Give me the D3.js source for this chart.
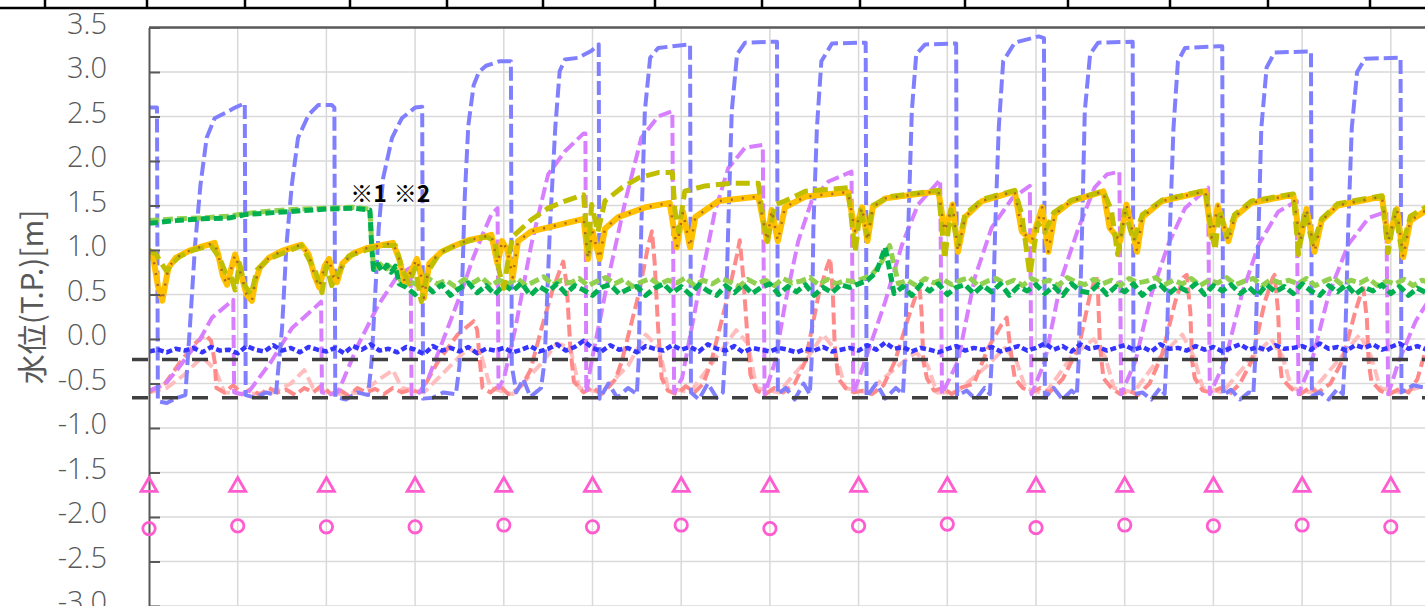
<!DOCTYPE html>
<html lang="ja">
<head>
<meta charset="utf-8">
<title>水位</title>
<script src="https://cdn.jsdelivr.net/npm/d3@7"></script>
<style>
  body { margin: 0; background: #fff; }
  svg { display: block; }
  .tick text { font-family: 'Open Sans', sans-serif; font-weight: 300; }
</style>
</head>
<body>
<div id="chart"></div>
<script>
// time axis is in days from the left edge of the plot, water level in T.P. m
const yTicks = [-3.0, -2.5, -2.0, -1.5, -1.0, -0.5, 0.0, 0.5, 1.0, 1.5, 2.0, 2.5, 3.0, 3.5];
const days = [0, 1, 2, 3, 4, 5, 6, 7, 8, 9, 10, 11, 12, 13, 14];

// outer water level (blue dashed)
const outerLevel = [
  [0,2.60],[0.09,2.60],[0.1,-0.70],[0.2,-0.72],[0.32,-0.66],[0.41,-0.63],[0.46,0.12],[0.52,1.06],[0.58,1.73],[0.65,2.26],[0.74,2.48],[0.86,2.54],[0.97,2.60],[1.08,2.65],
  [1.09,-0.63],[1.2,-0.66],[1.32,-0.6],[1.43,-0.63],[1.5,0.12],[1.55,1.06],[1.61,1.73],[1.68,2.26],[1.8,2.52],[1.91,2.63],[2.06,2.63],[2.09,2.6],
  [2.1,-0.65],[2.22,-0.68],[2.35,-0.6],[2.47,-0.63],[2.51,-0.25],[2.55,0.5],[2.59,1.25],[2.64,1.81],[2.74,2.26],[2.85,2.48],[3.0,2.6],[3.08,2.61],
  [3.09,-0.67],[3.2,-0.66],[3.32,-0.6],[3.46,-0.62],[3.5,-0.3],[3.53,0.6],[3.56,1.6],[3.6,2.4],[3.66,2.85],[3.72,3.0],[3.8,3.07],[3.95,3.12],[4.08,3.12],
  [4.09,-0.3],[4.14,-0.6],[4.22,-0.45],[4.3,-0.65],[4.42,-0.55],[4.46,-0.25],[4.52,1.25],[4.58,2.37],[4.63,3.01],[4.69,3.14],[4.84,3.16],[4.99,3.24],[5.07,3.31],
  [5.08,-0.67],[5.18,-0.5],[5.28,-0.66],[5.4,-0.55],[5.5,-0.62],[5.52,-0.25],[5.55,1.25],[5.59,2.56],[5.65,3.16],[5.74,3.27],[6.08,3.31],[6.1,3.31],
  [6.11,-0.6],[6.2,-0.68],[6.3,-0.5],[6.4,-0.66],[6.47,-0.6],[6.49,-0.25],[6.53,1.25],[6.57,2.56],[6.63,3.2],[6.72,3.33],[7.06,3.34],[7.08,3.34],
  [7.09,-0.62],[7.18,-0.55],[7.28,-0.68],[7.38,-0.5],[7.45,-0.62],[7.47,-0.25],[7.49,1.25],[7.53,2.37],[7.58,3.12],[7.7,3.32],[8.07,3.33],[8.08,3.33],
  [8.09,-0.65],[8.2,-0.5],[8.3,-0.67],[8.42,-0.55],[8.5,-0.62],[8.52,-0.25],[8.56,1.25],[8.6,2.56],[8.65,3.2],[8.75,3.31],[9.09,3.32],[9.1,3.32],
  [9.11,-0.64],[9.22,-0.58],[9.32,-0.68],[9.42,-0.55],[9.48,-0.62],[9.5,-0.25],[9.54,1.25],[9.58,2.37],[9.63,3.12],[9.76,3.33],[10.03,3.4],[10.09,3.38],
  [10.1,-0.66],[10.2,-0.55],[10.3,-0.68],[10.4,-0.58],[10.46,-0.63],[10.48,-0.25],[10.52,1.25],[10.55,2.56],[10.61,3.2],[10.7,3.33],[11.08,3.34],[11.09,3.34],
  [11.1,-0.62],[11.2,-0.6],[11.3,-0.68],[11.4,-0.55],[11.45,-0.62],[11.47,-0.25],[11.51,1.25],[11.55,2.37],[11.6,3.12],[11.68,3.27],[12.06,3.29],[12.1,3.29],
  [12.11,-0.63],[12.2,-0.57],[12.3,-0.68],[12.4,-0.6],[12.45,-0.62],[12.47,-0.25],[12.51,1.25],[12.54,2.37],[12.6,3.05],[12.69,3.22],[13.06,3.23],[13.1,3.23],
  [13.11,-0.64],[13.2,-0.6],[13.3,-0.68],[13.4,-0.56],[13.46,-0.62],[13.48,-0.25],[13.52,1.25],[13.56,2.37],[13.62,3.0],[13.71,3.15],[14.08,3.16],[14.11,3.16],
  [14.12,-0.6],[14.25,-0.52],[14.4,-0.55],[14.5,-0.5]
];

// violet dashed
const upperLevel = [
  [0,-0.58],[0.18,-0.51],[0.33,-0.33],[0.44,-0.18],[0.56,-0.03],[0.71,0.24],[0.95,0.44],[0.96,-0.6],[1.05,-0.62],
  [1.12,-0.6],[1.38,-0.25],[1.61,0.12],[1.91,0.39],[1.94,0.42],[1.95,-0.6],[2.05,-0.62],
  [2.13,-0.6],[2.36,-0.06],[2.59,0.39],[2.81,0.72],[2.95,0.8],[2.96,-0.62],[3.05,-0.6],
  [3.15,-0.44],[3.34,0.05],[3.53,0.55],[3.65,0.9],[3.76,1.17],[3.86,1.4],[3.93,1.47],[3.94,-0.55],
  [4.0,-0.45],[4.13,0.12],[4.31,1.06],[4.5,1.85],[4.69,2.11],[4.9,2.31],[4.92,2.31],[4.93,-0.6],
  [4.99,-0.25],[5.18,0.69],[5.37,1.55],[5.55,2.26],[5.74,2.5],[5.9,2.56],[5.92,-0.6],
  [6.01,-0.44],[6.19,0.5],[6.38,1.43],[6.53,1.92],[6.72,2.15],[6.92,2.18],[6.94,-0.62],
  [7.06,-0.25],[7.17,0.39],[7.32,1.1],[7.47,1.55],[7.66,1.77],[7.92,1.88],[7.94,-0.62],
  [8.07,-0.25],[8.3,0.42],[8.49,1.06],[8.67,1.51],[8.92,1.79],[8.94,-0.62],
  [9.12,-0.25],[9.31,0.69],[9.5,1.25],[9.73,1.58],[9.93,1.72],[9.95,-0.62],
  [10.1,-0.25],[10.29,0.69],[10.48,1.25],[10.66,1.7],[10.8,1.85],[10.94,1.88],[10.96,-0.62],
  [11.12,-0.25],[11.3,0.5],[11.49,1.06],[11.68,1.47],[11.94,1.7],[11.96,-0.62],
  [12.13,-0.25],[12.32,0.5],[12.51,1.06],[12.73,1.43],[12.94,1.55],[12.96,-0.62],
  [13.11,-0.25],[13.3,0.5],[13.52,1.06],[13.75,1.36],[13.95,1.43],[13.97,-0.62],
  [14.09,-0.25],[14.28,0.2],[14.5,0.55]
];

// salmon dashed
const innerLevelA = [
  [0,-0.6],[0.08,-0.55],[0.18,-0.5],[0.36,-0.25],[0.51,-0.06],[0.63,0.05],[0.7,-0.02],[0.74,-0.25],[0.76,-0.55],
  [0.85,-0.6],[0.95,-0.52],[1.05,-0.62],[1.15,-0.56],[1.25,-0.63],[1.35,-0.55],[1.45,-0.6],[1.55,-0.57],[1.65,-0.63],[1.75,-0.55],
  [1.85,-0.6],[1.95,-0.52],[2.05,-0.62],[2.15,-0.57],[2.25,-0.64],[2.35,-0.55],[2.45,-0.6],[2.55,-0.56],[2.65,-0.62],[2.75,-0.55],
  [2.85,-0.6],[2.95,-0.57],[3.05,-0.6],
  [3.12,-0.5],[3.26,-0.25],[3.48,0.05],[3.66,0.2],[3.7,0.1],[3.73,-0.25],[3.76,-0.55],
  [3.85,-0.6],[3.95,-0.52],[4.05,-0.62],[4.15,-0.57],
  [4.22,-0.5],[4.3,-0.35],[4.42,0.1],[4.55,0.55],[4.67,0.87],[4.71,0.6],[4.75,-0.1],[4.79,-0.48],
  [4.9,-0.6],[5.0,-0.54],[5.1,-0.62],[5.2,-0.52],
  [5.26,-0.45],[5.33,-0.25],[5.52,0.5],[5.63,1.06],[5.67,1.21],[5.7,0.87],[5.74,0.12],[5.78,-0.44],
  [5.85,-0.58],[5.95,-0.62],[6.05,-0.53],[6.15,-0.6],[6.25,-0.5],
  [6.34,-0.25],[6.53,0.5],[6.63,0.95],[6.66,1.11],[6.7,0.69],[6.74,0.12],[6.78,-0.4],
  [6.85,-0.58],[6.95,-0.62],[7.05,-0.55],[7.15,-0.6],[7.28,-0.5],
  [7.4,-0.25],[7.55,0.5],[7.64,0.8],[7.68,0.91],[7.71,0.5],[7.73,-0.06],[7.77,-0.44],
  [7.85,-0.55],[7.95,-0.6],[8.05,-0.58],[8.15,-0.62],[8.28,-0.52],
  [8.41,-0.25],[8.56,0.24],[8.65,0.5],[8.69,0.55],[8.71,0.3],[8.73,-0.25],[8.77,-0.44],
  [8.85,-0.58],[8.95,-0.55],[9.05,-0.62],[9.15,-0.55],[9.3,-0.5],
  [9.46,-0.1],[9.61,0.16],[9.67,0.24],[9.71,-0.1],[9.76,-0.44],
  [9.85,-0.55],[9.95,-0.6],[10.05,-0.55],[10.15,-0.6],[10.3,-0.45],
  [10.48,-0.1],[10.61,0.5],[10.68,0.72],[10.7,0.5],[10.72,-0.06],[10.76,-0.44],
  [10.85,-0.55],[10.95,-0.62],[11.05,-0.58],[11.15,-0.63],[11.28,-0.5],
  [11.42,-0.18],[11.57,0.42],[11.66,0.69],[11.7,0.72],[11.74,0.3],[11.76,-0.25],[11.79,-0.44],
  [11.88,-0.58],[11.98,-0.6],[12.08,-0.55],[12.18,-0.62],[12.3,-0.5],
  [12.43,-0.25],[12.58,0.42],[12.67,0.69],[12.69,0.72],[12.73,0.3],[12.75,-0.25],[12.77,-0.44],
  [12.88,-0.56],[12.98,-0.62],[13.08,-0.55],[13.18,-0.6],[13.32,-0.5],
  [13.45,-0.25],[13.6,0.31],[13.67,0.53],[13.69,0.57],[13.73,0.23],[13.75,-0.25],[13.78,-0.47],
  [13.88,-0.58],[13.98,-0.62],[14.1,-0.56],[14.2,-0.6],[14.3,-0.45],[14.4,-0.1],[14.5,0.3]
];

// light pink dashed
const innerLevelB = [
  [0,-0.6],[0.2,-0.55],[0.4,-0.4],[0.6,-0.2],[0.75,-0.35],[0.85,-0.6],[1.1,-0.62],[1.4,-0.6],[1.6,-0.5],[1.75,-0.35],[1.85,-0.55],
  [2.1,-0.62],[2.4,-0.6],[2.6,-0.45],[2.75,-0.35],[2.85,-0.55],[3.1,-0.6],[3.4,-0.3],[3.6,-0.1],[3.75,-0.2],[3.85,-0.55],
  [4.1,-0.62],[4.4,-0.3],[4.6,-0.05],[4.75,-0.1],[4.85,-0.55],[5.1,-0.6],[5.4,-0.3],[5.6,0.05],[5.75,-0.1],[5.85,-0.55],
  [6.1,-0.6],[6.4,-0.2],[6.62,0.1],[6.75,-0.05],[6.85,-0.55],[7.1,-0.6],[7.4,-0.25],[7.6,0.05],[7.72,-0.1],[7.85,-0.55],
  [8.1,-0.6],[8.45,-0.3],[8.65,-0.15],[8.78,-0.3],[8.88,-0.6],[9.1,-0.6],[9.45,-0.3],[9.65,-0.1],[9.78,-0.25],[9.88,-0.55],
  [10.1,-0.62],[10.4,-0.2],[10.65,0.0],[10.78,-0.2],[10.88,-0.55],[11.1,-0.6],[11.4,-0.2],[11.65,0.05],[11.78,-0.2],[11.88,-0.55],
  [12.1,-0.6],[12.4,-0.25],[12.65,0.0],[12.78,-0.2],[12.88,-0.55],[13.1,-0.6],[13.4,-0.25],[13.65,0.05],[13.78,-0.2],[13.88,-0.55],
  [14.1,-0.6],[14.5,-0.5]
];

// dark blue dotted, one reading every 0.1 day
const sampleStep = 0.1;
const pumpLevel = [
  -0.14,-0.12,-0.15,-0.11,-0.13,-0.1,-0.15,-0.09,-0.13,-0.12,
  -0.16,-0.08,-0.12,-0.14,-0.07,-0.13,-0.1,-0.15,-0.09,-0.12,
  -0.14,-0.1,-0.16,-0.08,-0.12,-0.06,-0.13,-0.11,-0.15,-0.09,
  -0.12,-0.17,-0.08,-0.13,-0.1,-0.14,-0.09,-0.16,-0.11,-0.13,
  -0.1,-0.15,-0.12,-0.08,-0.14,-0.11,-0.06,-0.13,-0.09,-0.02,
  -0.1,-0.14,-0.07,-0.12,-0.1,-0.15,-0.08,-0.11,-0.13,-0.07,
  -0.12,-0.09,-0.14,-0.06,-0.11,-0.13,-0.08,-0.15,-0.1,-0.12,
  -0.14,-0.1,-0.12,-0.15,-0.11,-0.13,-0.09,-0.14,-0.12,-0.1,
  -0.13,-0.07,-0.12,-0.04,-0.11,-0.09,-0.14,-0.1,-0.12,-0.15,
  -0.11,-0.08,-0.13,-0.1,-0.12,-0.09,-0.14,-0.11,-0.08,-0.13,
  -0.1,-0.05,-0.12,-0.08,-0.14,-0.06,-0.11,-0.09,-0.13,-0.1,
  -0.07,-0.12,-0.09,-0.14,-0.06,-0.11,-0.1,-0.13,-0.08,-0.12,
  -0.09,-0.14,-0.1,-0.06,-0.12,-0.09,-0.13,-0.07,-0.11,-0.1,
  -0.08,-0.12,-0.05,-0.11,-0.09,-0.13,-0.07,-0.1,-0.06,-0.12,
  -0.09,-0.05,-0.11,-0.08,-0.12,-0.07
];

// green dashed: readings until the change, then every 0.1 day from 2.9
const canalEarly = [
  [0,1.30],[0.3,1.33],[0.6,1.35],[0.9,1.36],[1.1,1.40],[1.4,1.42],[1.7,1.44],[2.0,1.46],[2.3,1.47],[2.49,1.45],
  [2.51,1.05],[2.53,0.78],[2.58,0.84],[2.63,0.76],[2.68,0.83],[2.73,0.75],[2.78,0.82],[2.82,0.62]
];
const canalStart = 2.9;
const canalLevel = [
  0.58,0.5,0.62,0.53,0.61,0.49,0.57,0.63,0.52,0.6,
  0.5,0.61,0.54,0.63,0.49,0.59,0.53,0.62,0.51,0.6,
  0.55,0.49,0.58,0.61,0.51,0.56,0.59,0.49,0.57,0.62,
  0.52,0.59,0.5,0.61,0.54,0.49,0.6,0.52,0.61,0.51,
  0.58,0.62,0.5,0.59,0.53,0.61,0.49,0.58,0.52,0.61,
  0.58,0.62,0.66,0.75,1.03,0.51,0.59,0.49,0.61,0.54,
  0.62,0.5,0.58,0.61,0.51,0.6,0.53,0.62,0.49,0.59,
  0.54,0.61,0.51,0.59,0.49,0.62,0.54,0.52,0.61,0.5,
  0.59,0.53,0.62,0.49,0.58,0.61,0.51,0.59,0.54,0.62,
  0.5,0.6,0.54,0.61,0.51,0.58,0.49,0.61,0.53,0.59,
  0.51,0.62,0.54,0.49,0.6,0.53,0.61,0.5,0.58,0.54,
  0.61,0.51,0.59,0.49,0.57,0.52,0.6
];

// light green dashed
const canalEarlyB = [
  [0,1.33],[0.3,1.35],[0.6,1.36],[0.9,1.38],[1.1,1.41],[1.4,1.44],[1.7,1.46],[2.0,1.47],[2.3,1.48],[2.49,1.46],
  [2.51,1.1],[2.53,0.82],[2.58,0.8],[2.63,0.86],[2.68,0.79],[2.73,0.85],[2.78,0.78],[2.84,0.65]
];
const canalStartB = 2.95;
const canalLevelB = [
  0.64,0.6,0.68,0.62,0.66,0.59,0.67,0.63,0.69,0.6,
  0.66,0.62,0.68,0.6,0.65,0.7,0.61,0.66,0.63,0.68,
  0.6,0.65,0.69,0.62,0.67,0.59,0.64,0.68,0.61,0.66,
  0.63,0.69,0.6,0.66,0.62,0.68,0.64,0.59,0.67,0.62,
  0.66,0.6,0.68,0.63,0.65,0.69,0.61,0.67,0.62,0.66,
  0.64,0.68,0.72,0.85,1.05,0.62,0.66,0.6,0.68,0.63,
  0.67,0.61,0.66,0.69,0.6,0.65,0.68,0.62,0.66,0.6,
  0.68,0.63,0.66,0.6,0.69,0.64,0.61,0.67,0.62,0.66,
  0.6,0.68,0.63,0.65,0.69,0.61,0.66,0.62,0.68,0.6,
  0.66,0.63,0.69,0.61,0.65,0.68,0.6,0.67,0.63,0.66,
  0.62,0.68,0.6,0.65,0.69,0.61,0.66,0.63,0.68,0.6,
  0.65,0.62,0.67,0.6,0.66,0.63
];

// orange solid
const riverLevel = [
  [0,0.97],[0.05,0.9],[0.1,0.6],[0.15,0.43],[0.19,0.65],[0.22,0.8],[0.3,0.91],[0.45,0.99],[0.6,1.04],[0.74,1.08],
  [0.78,0.95],[0.83,0.72],[0.88,0.61],[0.93,0.8],[0.97,0.95],[1.03,0.75],[1.1,0.5],[1.16,0.43],[1.2,0.65],[1.25,0.8],
  [1.35,0.91],[1.5,0.99],[1.62,1.03],[1.72,1.06],[1.8,0.95],[1.87,0.7],[1.92,0.58],[1.98,0.82],[2.03,0.9],[2.08,0.7],
  [2.12,0.64],[2.18,0.85],[2.3,0.96],[2.45,1.02],[2.6,1.05],[2.75,1.08],[2.82,0.9],[2.88,0.65],[2.95,0.75],[3.02,0.9],
  [3.07,0.7],[3.1,0.46],[3.16,0.85],[3.3,0.98],[3.45,1.05],[3.6,1.11],[3.75,1.14],[3.86,1.17],[3.93,0.84],[3.98,1.1],
  [4.04,1.0],[4.1,0.69],[4.16,1.1],[4.31,1.21],[4.61,1.28],[4.9,1.35],[4.95,0.9],[5.0,1.21],[5.08,0.9],[5.14,1.24],
  [5.29,1.37],[5.6,1.48],[5.87,1.53],[5.95,1.03],[6.02,1.43],[6.1,1.03],[6.16,1.37],[6.42,1.55],[6.87,1.6],[6.97,1.1],
  [7.02,1.45],[7.09,1.1],[7.17,1.48],[7.4,1.6],[7.88,1.65],[7.96,1.21],[8.04,1.48],[8.1,1.1],[8.16,1.48],[8.3,1.58],
  [8.9,1.66],[8.97,1.21],[9.06,1.51],[9.12,0.98],[9.2,1.37],[9.39,1.55],[9.76,1.66],[9.84,1.21],[9.95,1.1],[10.07,1.48],
  [10.14,0.98],[10.21,1.4],[10.4,1.55],[10.76,1.66],[10.83,1.25],[10.95,1.1],[11.02,1.51],[11.14,0.98],[11.2,1.37],[11.42,1.55],
  [11.91,1.66],[11.98,1.14],[12.05,1.5],[12.17,1.1],[12.24,1.37],[12.43,1.53],[12.9,1.62],[12.98,1.1],[13.05,1.46],[13.14,0.98],
  [13.22,1.33],[13.4,1.5],[13.9,1.6],[13.97,1.1],[14.07,1.46],[14.14,0.92],[14.22,1.33],[14.39,1.44],[14.5,1.47]
];

// olive dashed
const riverLevelB = [
  [0,1.0],[0.08,0.95],[0.14,0.85],[0.2,0.76],[0.26,0.85],[0.35,0.93],[0.5,1.0],[0.7,1.05],[0.8,0.9],[0.86,0.75],
  [0.92,0.72],[0.97,0.55],[1.02,0.85],[1.08,0.6],[1.15,0.5],[1.22,0.78],[1.35,0.9],[1.55,0.98],[1.72,1.05],[1.8,0.9],
  [1.88,0.75],[1.95,0.52],[2.0,0.82],[2.06,0.6],[2.12,0.72],[2.25,0.93],[2.45,1.0],[2.62,1.05],[2.78,1.05],[2.85,0.8],
  [2.93,0.62],[3.0,0.8],[3.07,0.42],[3.14,0.75],[3.28,0.97],[3.45,1.05],[3.6,1.1],[3.8,1.15],[3.9,1.1],[3.95,0.75],
  [4.0,0.57],[4.05,0.9],[4.1,1.15],[4.31,1.34],[4.5,1.47],[4.69,1.55],[4.9,1.62],[4.95,0.95],[4.99,1.51],[5.06,1.2],
  [5.14,1.55],[5.33,1.7],[5.52,1.81],[5.74,1.87],[5.9,1.87],[5.93,1.44],[5.97,1.2],[6.04,1.66],[6.27,1.72],[6.57,1.75],
  [6.87,1.75],[6.93,1.3],[6.97,1.1],[7.06,1.51],[7.17,1.55],[7.4,1.66],[7.88,1.7],[7.96,0.98],[8.02,1.45],[8.1,1.15],
  [8.16,1.5],[8.35,1.6],[8.9,1.67],[8.97,0.9],[9.04,1.45],[9.12,1.05],[9.2,1.4],[9.4,1.57],[9.76,1.67],[9.84,1.4],
  [9.93,0.72],[10.02,1.3],[10.1,1.2],[10.2,1.42],[10.4,1.56],[10.76,1.66],[10.85,1.45],[10.92,0.95],[11.0,1.45],[11.1,1.1],
  [11.2,1.4],[11.42,1.56],[11.91,1.67],[11.97,1.25],[12.02,1.0],[12.07,1.45],[12.15,1.15],[12.24,1.4],[12.43,1.55],[12.9,1.63],
  [12.96,0.95],[13.03,1.45],[13.12,1.05],[13.22,1.35],[13.4,1.52],[13.9,1.61],[13.97,0.97],[14.05,1.45],[14.12,1.0],[14.22,1.38],
  [14.39,1.48],[14.5,1.48]
];

// reference levels (black dashed)
const refLevels = [-0.23, -0.66];

// daily marks
const triangleLevel = [-1.64,-1.64,-1.64,-1.64,-1.64,-1.64,-1.64,-1.64,-1.64,-1.64,-1.64,-1.64,-1.64,-1.64,-1.64];
const circleLevel = [-2.13,-2.10,-2.11,-2.11,-2.09,-2.11,-2.09,-2.13,-2.10,-2.08,-2.12,-2.09,-2.10,-2.09,-2.11];

const notes = [
  {label: '※1', day: 2.27, level: 1.54},
  {label: '※2', day: 2.76, level: 1.54}
];

// ----- layout -----
const width = 1425;
const height = 606;
const left = 149;
const dayWidth = 88.7;
const dayMax = 14.6;
const right = left + dayWidth * dayMax;
const tableCols = [45, 147, 245, 350, 447, 543, 655, 762, 860, 965, 1068, 1170, 1268, 1370];

const x = d3.scaleLinear().domain([0, dayMax]).range([left, right]);
const y = d3.scaleLinear().domain([-3, 3.5]).range([606, 27.5]);

const svg = d3.select('#chart')
  .append('svg')
  .attr('width', width)
  .attr('height', height);

// table border above the chart
svg.append('line')
  .attr('x1', 0).attr('x2', width)
  .attr('y1', 8).attr('y2', 8)
  .attr('stroke', '#000').attr('stroke-width', 2.5);
svg.selectAll('line.col')
  .data(tableCols)
  .enter()
  .append('line')
  .attr('class', 'col')
  .attr('x1', d => d).attr('x2', d => d)
  .attr('y1', 0).attr('y2', 8)
  .attr('stroke', '#000').attr('stroke-width', 2.5);

svg.append('clipPath').attr('id', 'plot')
  .append('rect')
  .attr('x', left).attr('y', y(3.5))
  .attr('width', right - left).attr('height', height - y(3.5) + 10);

// grid
svg.append('g')
  .selectAll('line')
  .data(yTicks.filter(d => d < 3.5))
  .enter()
  .append('line')
  .attr('x1', left).attr('x2', right)
  .attr('y1', d => y(d)).attr('y2', d => y(d))
  .attr('stroke', '#d9d9d9').attr('stroke-width', 1.5);

svg.append('g')
  .selectAll('line')
  .data(days.filter(d => d > 0))
  .enter()
  .append('line')
  .attr('x1', d => x(d)).attr('x2', d => x(d))
  .attr('y1', y(3.5)).attr('y2', height)
  .attr('stroke', '#d9d9d9').attr('stroke-width', 1.5);

const line = d3.line()
  .x(d => x(d[0]))
  .y(d => y(d[1]));

const stepped = (start, values) => values.map((v, i) => [start + i * sampleStep, v]);

const series = [
  {data: innerLevelB, color: '#ffbdbd', width: 4, dash: '12,5'},
  {data: innerLevelA, color: '#ff8a8a', width: 4, dash: '12,5'},
  {data: upperLevel, color: '#d77fff', width: 4, dash: '13,5'},
  {data: outerLevel, color: '#8080ff', width: 4, dash: '14,5'},
  {data: stepped(0, pumpLevel), color: '#3535ff', width: 4.5, dash: '6,3'},
  {data: canalEarlyB.concat(stepped(canalStartB, canalLevelB)), color: '#92d050', width: 5, dash: '10,4'},
  {data: canalEarly.concat(stepped(canalStart, canalLevel)), color: '#00b050', width: 5, dash: '9,4'},
  {data: riverLevel, color: '#ffc000', width: 6, dash: null},
  {data: riverLevelB, color: '#bfbf00', width: 5, dash: '14,6'},
  {data: riverLevel, color: '#a86a28', width: 2.5, dash: '2,9'}
];

const plot = svg.append('g').attr('clip-path', 'url(#plot)');

plot.selectAll('path.series')
  .data(series)
  .enter()
  .append('path')
  .attr('class', 'series')
  .attr('d', d => line(d.data))
  .attr('fill', 'none')
  .attr('stroke', d => d.color)
  .attr('stroke-width', d => d.width)
  .attr('stroke-dasharray', d => d.dash)
  .attr('stroke-linejoin', 'round');

// reference levels reach a little left of the axis
svg.selectAll('line.ref')
  .data(refLevels)
  .enter()
  .append('line')
  .attr('class', 'ref')
  .attr('x1', left - 17).attr('x2', right)
  .attr('y1', d => y(d)).attr('y2', d => y(d))
  .attr('stroke', '#404040')
  .attr('stroke-width', 3.5)
  .attr('stroke-dasharray', '16,14');

// plot frame top
svg.append('line')
  .attr('x1', left).attr('x2', right)
  .attr('y1', y(3.5)).attr('y2', y(3.5))
  .attr('stroke', '#595959').attr('stroke-width', 2.5);

// y axis
const yAxis = svg.append('g')
  .attr('transform', 'translate(' + left + ',0)')
  .call(d3.axisLeft(y)
    .tickValues(yTicks)
    .tickSizeInner(-11)
    .tickSizeOuter(0)
    .tickPadding(42)
    .tickFormat(d => d.toFixed(1)));

yAxis.select('.domain').attr('stroke', '#595959').attr('stroke-width', 2);
yAxis.selectAll('.tick line').attr('stroke', '#595959').attr('stroke-width', 2);
yAxis.selectAll('.tick text')
  .attr('fill', '#595959')
  .attr('dy', '0.19em')
  .style('font-size', '29px');

svg.append('text')
  .attr('transform', 'translate(43,297) rotate(-90)')
  .attr('text-anchor', 'middle')
  .attr('fill', '#595959')
  .style('font-family', "'Noto Sans CJK JP', sans-serif")
  .style('font-size', '30px')
  .text('水位(T.P.)[m]');

// daily marks
const marks = svg.append('g');
marks.selectAll('path')
  .data(days)
  .enter()
  .append('path')
  .attr('d', 'M0,-7.5L8,6.5L-8,6.5Z')
  .attr('transform', (d, i) => 'translate(' + x(d) + ',' + y(triangleLevel[i]) + ')')
  .attr('fill', 'none')
  .attr('stroke', '#ff5ccf')
  .attr('stroke-width', 2.8);

marks.selectAll('circle')
  .data(days)
  .enter()
  .append('circle')
  .attr('cx', d => x(d))
  .attr('cy', (d, i) => y(circleLevel[i]))
  .attr('r', 6.2)
  .attr('fill', 'none')
  .attr('stroke', '#ff5ccf')
  .attr('stroke-width', 2.8);

// notes
svg.selectAll('text.note')
  .data(notes)
  .enter()
  .append('text')
  .attr('class', 'note')
  .attr('x', d => x(d.day))
  .attr('y', d => y(d.level))
  .attr('fill', '#000')
  .style('font-family', "'Noto Sans CJK JP', sans-serif")
  .style('font-weight', 'bold')
  .style('font-size', '23px')
  .text(d => d.label);
</script>
</body>
</html>
